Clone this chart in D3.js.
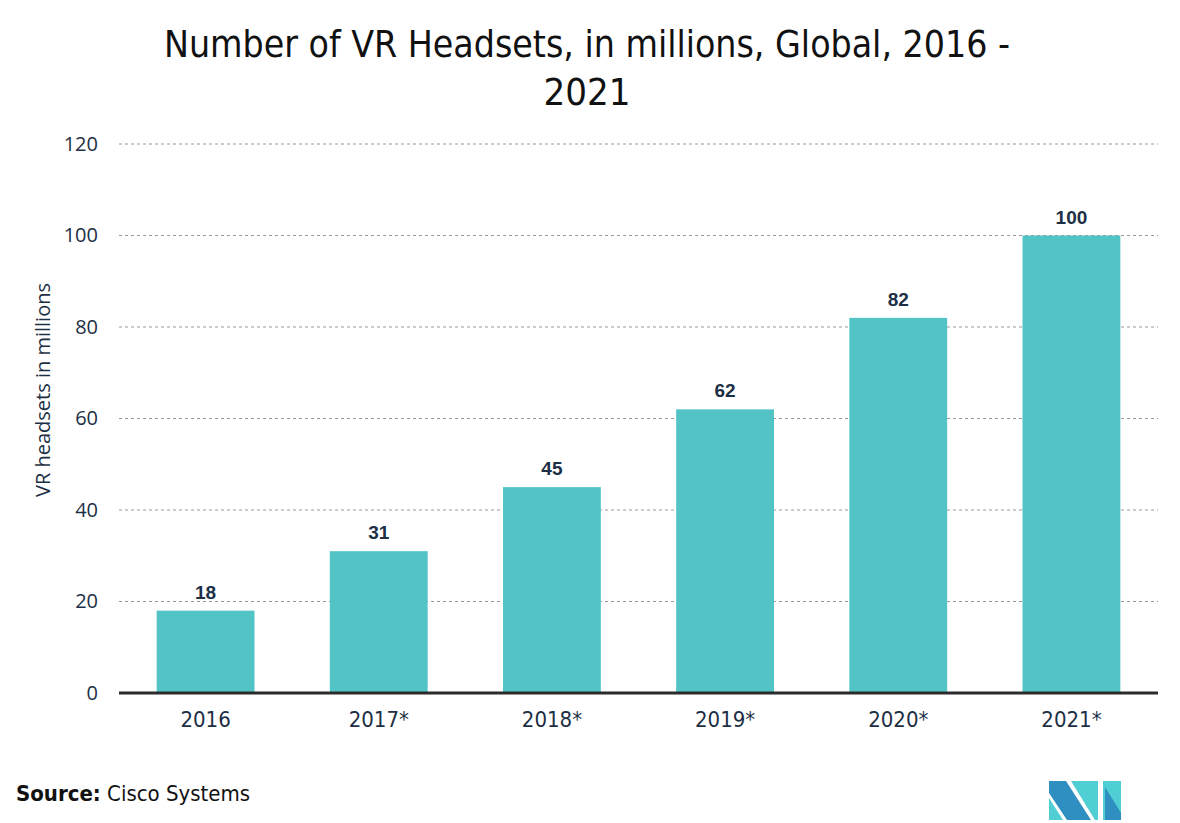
<!DOCTYPE html>
<html><head><meta charset="utf-8">
<script src="https://cdn.jsdelivr.net/npm/d3@7"></script>
<style>
body{margin:0;background:#fff;}
svg{display:block;}
</style></head>
<body><svg id="c" width="1180" height="823"></svg>
<script>
const categories = ["2016","2017*","2018*","2019*","2020*","2021*"];
const values = [18,31,45,62,82,100];
const yTicks = [0,20,40,60,80,100,120];
const titleLines = ["Number of VR Headsets, in millions, Global, 2016 -","2021"];
const yTitle = "VR headsets in millions";

const svg = d3.select("#c");
const m = {l:119, r:1158, t:144, b:693};
const x = d3.scaleBand().domain(categories).range([m.l,m.r]).paddingInner(0.435).paddingOuter(0.2175);
const y = d3.scaleLinear().domain([0,120]).range([m.b,m.t]);
const navy = "#1d2f45";
const condensed = "'Liberation Sans Narrow','DejaVu Sans Condensed',sans-serif";

// title
svg.append("g").selectAll("text").data(titleLines).join("text")
  .attr("x",587).attr("y",(d,i)=>57+i*48)
  .attr("text-anchor","middle").attr("font-family",condensed)
  .attr("font-size",38).attr("fill","#111")
  .attr("textLength",(d,i)=>i===0?846:null).attr("lengthAdjust","spacingAndGlyphs").text(d=>d);

// grid
const yAxis = d3.axisLeft(y).tickValues(yTicks).tickSize(0).tickPadding(21);
const yg = svg.append("g").attr("transform",`translate(${m.l},0)`).call(yAxis);
yg.select(".domain").remove();
yg.selectAll("text").attr("font-family","'Open Sans',sans-serif").attr("font-size",20).attr("fill",navy);
svg.append("g").selectAll("line").data(yTicks.filter(d=>d>0)).join("line")
  .attr("x1",m.l).attr("x2",m.r).attr("y1",d=>y(d)).attr("y2",d=>y(d))
  .attr("stroke","#999").attr("stroke-width",1).attr("stroke-dasharray","3,3");

// bars
svg.append("g").selectAll("rect").data(values).join("rect")
  .attr("x",(d,i)=>x(categories[i])).attr("width",x.bandwidth())
  .attr("y",d=>y(d)).attr("height",d=>y(0)-y(d)).attr("fill","#52c4c6");

// value labels
svg.append("g").selectAll("text").data(values).join("text")
  .attr("x",(d,i)=>x(categories[i])+x.bandwidth()/2).attr("y",d=>y(d)-12)
  .attr("text-anchor","middle").attr("font-family","'Liberation Sans',Arial,sans-serif")
  .attr("font-weight","bold").attr("font-size",19).attr("fill",navy).text(d=>d);

// x axis
const xAxis = d3.axisBottom(x).tickSize(0).tickPadding(18);
const xg = svg.append("g").attr("transform",`translate(0,${m.b})`).call(xAxis);
xg.select(".domain").remove();
xg.selectAll("text").attr("font-family",condensed).attr("font-size",22).attr("fill",navy);
svg.append("line").attr("x1",m.l).attr("x2",m.r).attr("y1",y(0)).attr("y2",y(0))
  .attr("stroke","#2b2b2b").attr("stroke-width",3);

// y title
svg.append("text").attr("transform","translate(50,390) rotate(-90)")
  .attr("text-anchor","middle").attr("font-family","'Open Sans',sans-serif")
  .attr("font-size",20).attr("fill",navy).text(yTitle);

// source
const src = svg.append("text").attr("x",16).attr("y",801)
  .attr("font-family",condensed).attr("font-size",22).attr("fill","#111");
src.append("tspan").attr("font-weight","bold").text("Source:");
src.append("tspan").text(" Cisco Systems");

// logo
const lg = svg.append("g").attr("transform","translate(1049,781)");
lg.append("path").attr("d","M0,0 L17,0 L42,39 L18,39 L0,12 Z").attr("fill","#2e8fc0");
lg.append("path").attr("d","M0,17 L14,39 L0,39 Z").attr("fill","#4fcfd3");
lg.append("path").attr("d","M22,0 L49,0 L49,39 L46,39 Z").attr("fill","#4fcfd3");
lg.append("path").attr("d","M54,0 L72,0 L72,39 L54,39 Z").attr("fill","#4fcfd3");
lg.append("path").attr("d","M56,6 L72,32 L72,39 L56,39 Z").attr("fill","#2e8fc0");
</script></body></html>
